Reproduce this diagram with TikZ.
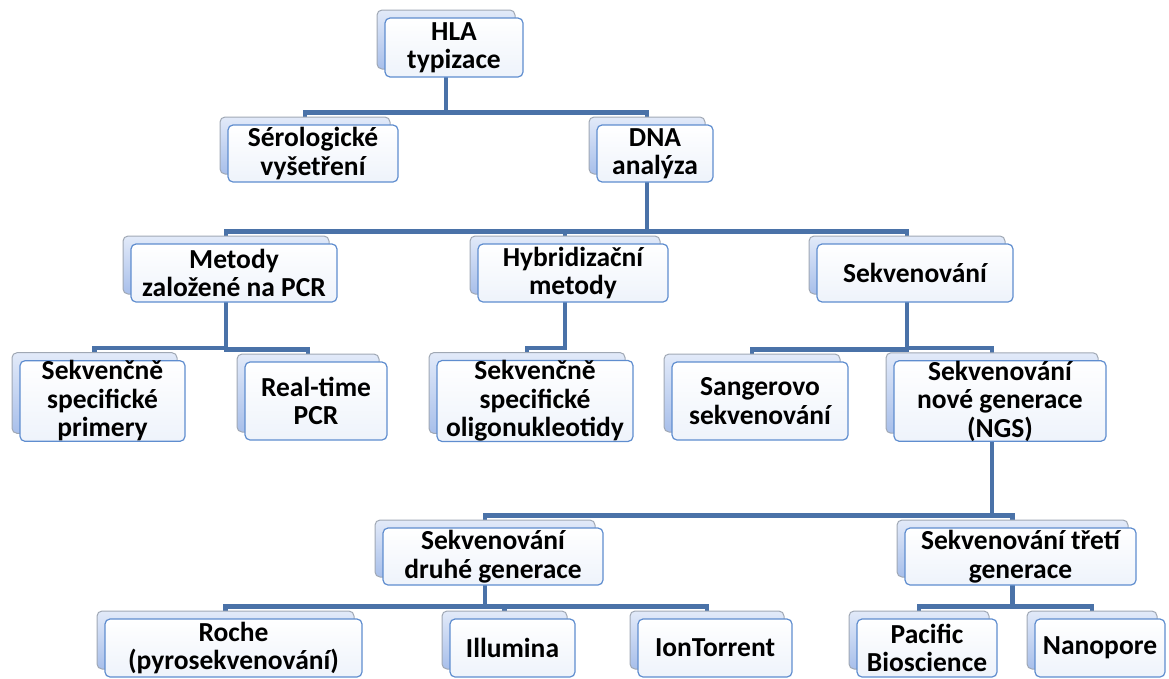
\documentclass[tikz,border=0pt]{standalone}
\usepackage{fontspec}
\setmainfont{Carlito}
\usetikzlibrary{shadows,backgrounds,positioning}
\definecolor{linkblue}{HTML}{4A72A8}
\definecolor{boxedge}{HTML}{5F8DCF}
\definecolor{frontbot}{HTML}{EEF3FB}
\definecolor{backtop}{HTML}{E2EAF9}
\definecolor{backbot}{HTML}{A8BFEA}
\definecolor{backedge}{HTML}{A0A8B4}
\tikzset{box/.style={draw=boxedge, line width=1.2pt, rounded corners=5pt,
  top color=white, bottom color=frontbot, align=center, inner sep=0pt,
  font=\fontsize{27.5}{28.5}\selectfont\bfseries,
  general shadow={shadow xshift=-8pt, shadow yshift=8pt, draw=backedge,
    line width=1pt, top color=backtop, bottom color=backbot}},
%one row of boxes is taller than the others
tall/.style={minimum height=78pt},
link/.style={draw=linkblue, line width=4.6pt, line cap=rect}}

\begin{document}
\begin{tikzpicture}[x=1pt,y=-1pt]
 \useasboundingbox (0,0) rectangle (1169,678);

 %Top of the tree
 \node[box, minimum width=138, minimum height=59] (hla) at (454,47.5) {HLA\\typizace};
 \node[box, minimum width=170, minimum height=57] (sero) at (313,153.5) {Sérologické\\vyšetření};
 \node[box, minimum width=116, minimum height=57] (dna) at (655,153.5) {DNA\\analýza};

 %Groups of methods
 \node[box, minimum width=206, minimum height=58] (pcr) at (234,273) {Metody\\založené na PCR};
 \node[box, minimum width=190, minimum height=58] (hyb) at (573,273) {Hybridizační\\metody};
 \node[box, minimum width=196, minimum height=58] (sekv) at (915,273) {Sekvenování};

 %Methods
 \node[box, tall, minimum width=165] (ssp) at (102.5,401) {Sekvenčně\\specifické\\primery};
 \node[box, tall, minimum width=142] (rt) at (316,401) {Real-time\\PCR};
 \node[box, tall, minimum width=196] (sso) at (535,401) {Sekvenčně\\specifické\\oligonukleotidy};
 \node[box, tall, minimum width=176] (sang) at (760,401) {Sangerovo\\sekvenování};
 \node[box, tall, minimum width=212] (ngs) at (1000,401) {Sekvenování\\nové generace\\(NGS)};

 %NGS generations
 \node[box, minimum width=220, minimum height=57] (sdg) at (493,556.5) {Sekvenování\\druhé generace};
 \node[box, minimum width=231, minimum height=57] (stg) at (1020.5,556.5) {Sekvenování třetí\\generace};

 %Platforms
 \node[box, minimum width=257, minimum height=58] (roche) at (233.5,648) {Roche\\(pyrosekvenování)};
 \node[box, minimum width=125, minimum height=58] (illu) at (512.5,648) {Illumina};
 \node[box, minimum width=154, minimum height=58] (ion) at (715,648) {IonTorrent};
 \node[box, minimum width=140, minimum height=58] (pac) at (927,648) {Pacific\\Bioscience};
 \node[box, minimum width=130, minimum height=58] (nano) at (1100,648) {Nanopore};

 %Connectors behind the boxes
 \begin{scope}[on background layer]
 \foreach \p/\c in {hla/sero,hla/dna,dna/pcr,dna/hyb,dna/sekv,pcr/ssp,pcr/rt,hyb/sso,
   sekv/sang,sekv/ngs,ngs/sdg,ngs/stg,sdg/roche,sdg/illu,sdg/ion,stg/pac,stg/nano}
   \draw[link] ([xshift=-8pt]\p.south) |- ([xshift=-8pt,yshift=12pt]\c.north) -- ([xshift=-8pt]\c.north);
 \end{scope}
\end{tikzpicture}
\end{document}
